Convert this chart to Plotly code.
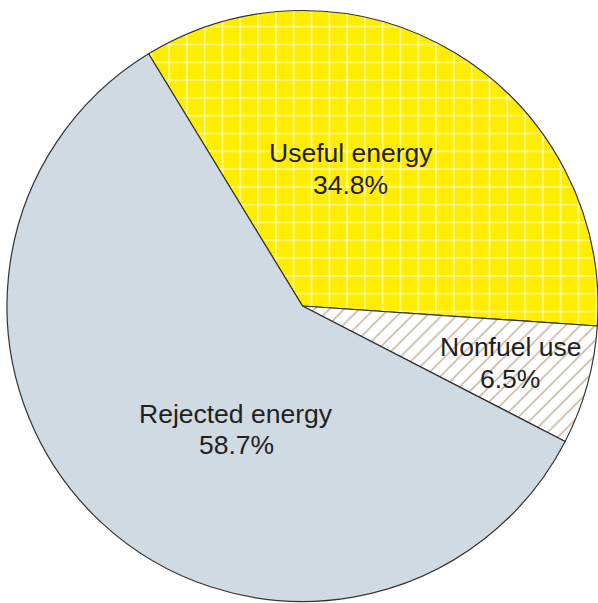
import plotly.graph_objects as go

labels = ["Useful energy", "Nonfuel use", "Rejected energy"]
values = [34.8, 6.5, 58.7]
colors = ["#FFED00", "#FFFFFF", "#CFDAE2"]
pattern_shapes = ["+", "/", ""]
pattern_fg = ["#FFFFFF", "#C6B39B", "#CFDAE2"]
pattern_sizes = [17.8, 10.5, 8]
pattern_solid = [0.12, 0.16, 0.3]

W, H = 598, 603
dom = dict(x=[7 / W, 1], y=[0, 1 - 9 / H])
fig = go.Figure()
fig.add_trace(go.Pie(
    labels=labels, values=values, sort=False, direction="clockwise",
    rotation=-31.4,
    marker=dict(colors=colors, line=dict(color="#333333", width=1.2),
                pattern=dict(shape=pattern_shapes, fgcolor=pattern_fg,
                             fgopacity=0.9,
                             size=pattern_sizes, solidity=pattern_solid,
                             fillmode="overlay")),
    textinfo="none", hoverinfo="none", showlegend=False, domain=dom,
))

# (x, y of first line, y of second line) in pixels
label_pos = [(350.5, 153, 184.5), (510, 347, 379), (236, 413.5, 445)]
font = dict(family="Liberation Sans, Arial", size=26.5, color="#231F20")
for lab, val, (px, py1, py2) in zip(labels, values, label_pos):
    for txt, py in ((lab, py1), (f"{val}%", py2)):
        fig.add_annotation(
            x=px / W, y=1 - py / H, xref="paper", yref="paper",
            xanchor="center", yanchor="middle",
            text=txt, showarrow=False, font=font, align="center",
        )

fig.update_layout(width=W, height=H, margin=dict(l=0, r=0, t=0, b=0),
                  paper_bgcolor="white", plot_bgcolor="white")
fig.write_html("out.html")
